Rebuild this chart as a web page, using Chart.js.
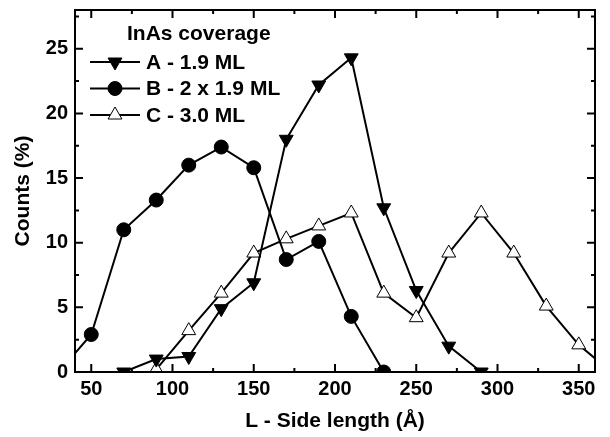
<!DOCTYPE html>
<html>
<head>
<meta charset="utf-8">
<script src="https://cdn.jsdelivr.net/npm/chart.js@4/dist/chart.umd.min.js"></script>
<style>
  html, body { margin: 0; padding: 0; background: #fff; }
</style>
</head>
<body>
<canvas id="chart" width="610" height="437"></canvas>
<script>
// side length bins (Å) and counts (%)
const sizesA  = [70, 90, 110, 130, 150, 170, 190, 210, 230, 250, 270, 290];
const countsA = [0, 1.0, 1.2, 4.9, 6.9, 18.0, 22.2, 24.3, 12.7, 6.3, 2.0, 0];

const sizesB  = [30, 50, 70, 90, 110, 130, 150, 170, 190, 210, 230];
const countsB = [0, 2.9, 11.0, 13.3, 16.0, 17.4, 15.8, 8.7, 10.1, 4.3, 0];

const sizesC  = [90, 110, 130, 150, 170, 190, 210, 230, 250, 270, 290, 310, 330, 350, 370];
const countsC = [0.2, 3.2, 6.1, 9.2, 10.3, 11.3, 12.3, 6.1, 4.2, 9.2, 12.3, 9.2, 5.1, 2.1, 0];

const labels = ["A - 1.9 ML", "B - 2 x 1.9 ML", "C - 3.0 ML"];
const legendTitle = "InAs coverage";

const xMajor = [50, 100, 150, 200, 250, 300, 350];
const xMinor = [75, 125, 175, 225, 275, 325];
const yMajor = [0, 5, 10, 15, 20, 25];
const yMinor = [2.5, 7.5, 12.5, 17.5, 22.5, 27.5];

const FONT = "'Liberation Sans', Arial, sans-serif";

const toXY = (xs, ys) => xs.map((x, i) => ({x: x, y: ys[i]}));

// box + inward ticks on all four sides
const framePlugin = {
  id: 'frame',
  afterDatasetsDraw(chart) {
    const {ctx, chartArea: a, scales: {x, y}} = chart;
    ctx.save();
    ctx.strokeStyle = '#000';
    ctx.lineWidth = 2;
    ctx.strokeRect(a.left, a.top, a.right - a.left, a.bottom - a.top);
    ctx.beginPath();
    const xt = (v, len) => {
      const p = x.getPixelForValue(v);
      ctx.moveTo(p, a.bottom); ctx.lineTo(p, a.bottom - len);
      ctx.moveTo(p, a.top); ctx.lineTo(p, a.top + len);
    };
    const yt = (v, len) => {
      const p = y.getPixelForValue(v);
      ctx.moveTo(a.left, p); ctx.lineTo(a.left + len, p);
      ctx.moveTo(a.right, p); ctx.lineTo(a.right - len, p);
    };
    xMajor.forEach(v => xt(v, 8));
    xMinor.forEach(v => xt(v, 4));
    yMajor.forEach(v => yt(v, 8));
    yMinor.forEach(v => yt(v, 4));
    ctx.stroke();
    ctx.restore();
  }
};

// legend drawn inside the plot, upper left
const innerLegend = {
  id: 'innerLegend',
  afterDraw(chart) {
    const {ctx, chartArea: a} = chart;
    const lx = a.left + 15;
    ctx.save();
    ctx.fillStyle = '#000';
    ctx.font = 'bold 21px ' + FONT;
    ctx.textBaseline = 'middle';
    ctx.textAlign = 'left';
    ctx.fillText(legendTitle, a.left + 52, a.top + 24);
    chart.data.datasets.forEach((ds, i) => {
      const yy = a.top + 52 + i * 26.5;
      ctx.strokeStyle = '#000';
      ctx.lineWidth = 2;
      ctx.beginPath();
      ctx.moveTo(lx, yy); ctx.lineTo(lx + 50, yy);
      ctx.stroke();
      ctx.fillStyle = ds.pointBackgroundColor;
      ctx.strokeStyle = '#000';
      ctx.lineWidth = ds.pointBorderWidth;
      Chart.helpers.drawPoint(ctx, {
        pointStyle: ds.pointStyle,
        radius: ds.pointRadius,
        rotation: ds.pointRotation || 0,
        borderWidth: ds.pointBorderWidth
      }, lx + 25, yy);
      ctx.fillStyle = '#000';
      ctx.fillText(ds.label, lx + 56, yy + 1);
    });
    ctx.restore();
  }
};

const ds = (label, data, style, fill, radius, rot) => ({
  label: label,
  data: data,
  borderColor: '#000',
  borderWidth: 2,
  tension: 0,
  pointStyle: style,
  pointRadius: radius,
  pointRotation: rot,
  pointBackgroundColor: fill,
  pointBorderColor: '#000',
  pointBorderWidth: 1
});

new Chart(document.getElementById('chart'), {
  type: 'line',
  data: {
    datasets: [
      ds(labels[0], toXY(sizesA, countsA), 'triangle', '#000', 8, 180),
      ds(labels[1], toXY(sizesB, countsB), 'circle', '#000', 7, 0),
      ds(labels[2], toXY(sizesC, countsC), 'triangle', '#fff', 8, 0)
    ]
  },
  options: {
    responsive: false,
    animation: false,
    layout: {padding: {top: 10, right: 15, left: 0, bottom: 0}},
    plugins: {legend: {display: false}, tooltip: {enabled: false}},
    scales: {
      x: {
        type: 'linear',
        min: 40,
        max: 360,
        grid: {display: false, drawTicks: false},
        border: {display: false},
        afterBuildTicks: s => { s.ticks = xMajor.map(v => ({value: v})); },
        afterFit: s => { s.height = 65; s.paddingLeft = 0; s.paddingRight = 0; },
        ticks: {color: '#000', padding: 5, maxRotation: 0, font: {family: FONT, size: 20, weight: 'bold'}},
        title: {
          display: true,
          text: 'L - Side length (Å)',
          color: '#000',
          font: {family: FONT, size: 21, weight: 'bold'},
          padding: {top: 0, bottom: 3}
        }
      },
      y: {
        min: 0,
        max: 28,
        grid: {display: false, drawTicks: false},
        border: {display: false},
        afterBuildTicks: s => { s.ticks = yMajor.map(v => ({value: v})); },
        afterFit: s => { s.width = 75; s.paddingTop = 0; s.paddingBottom = 0; },
        ticks: {color: '#000', padding: 7, font: {family: FONT, size: 20, weight: 'bold'}},
        title: {
          display: true,
          text: 'Counts (%)',
          color: '#000',
          font: {family: FONT, size: 21, weight: 'bold'},
          padding: {top: 11, bottom: 0}
        }
      }
    }
  },
  plugins: [framePlugin, innerLegend]
});
</script>
</body>
</html>
